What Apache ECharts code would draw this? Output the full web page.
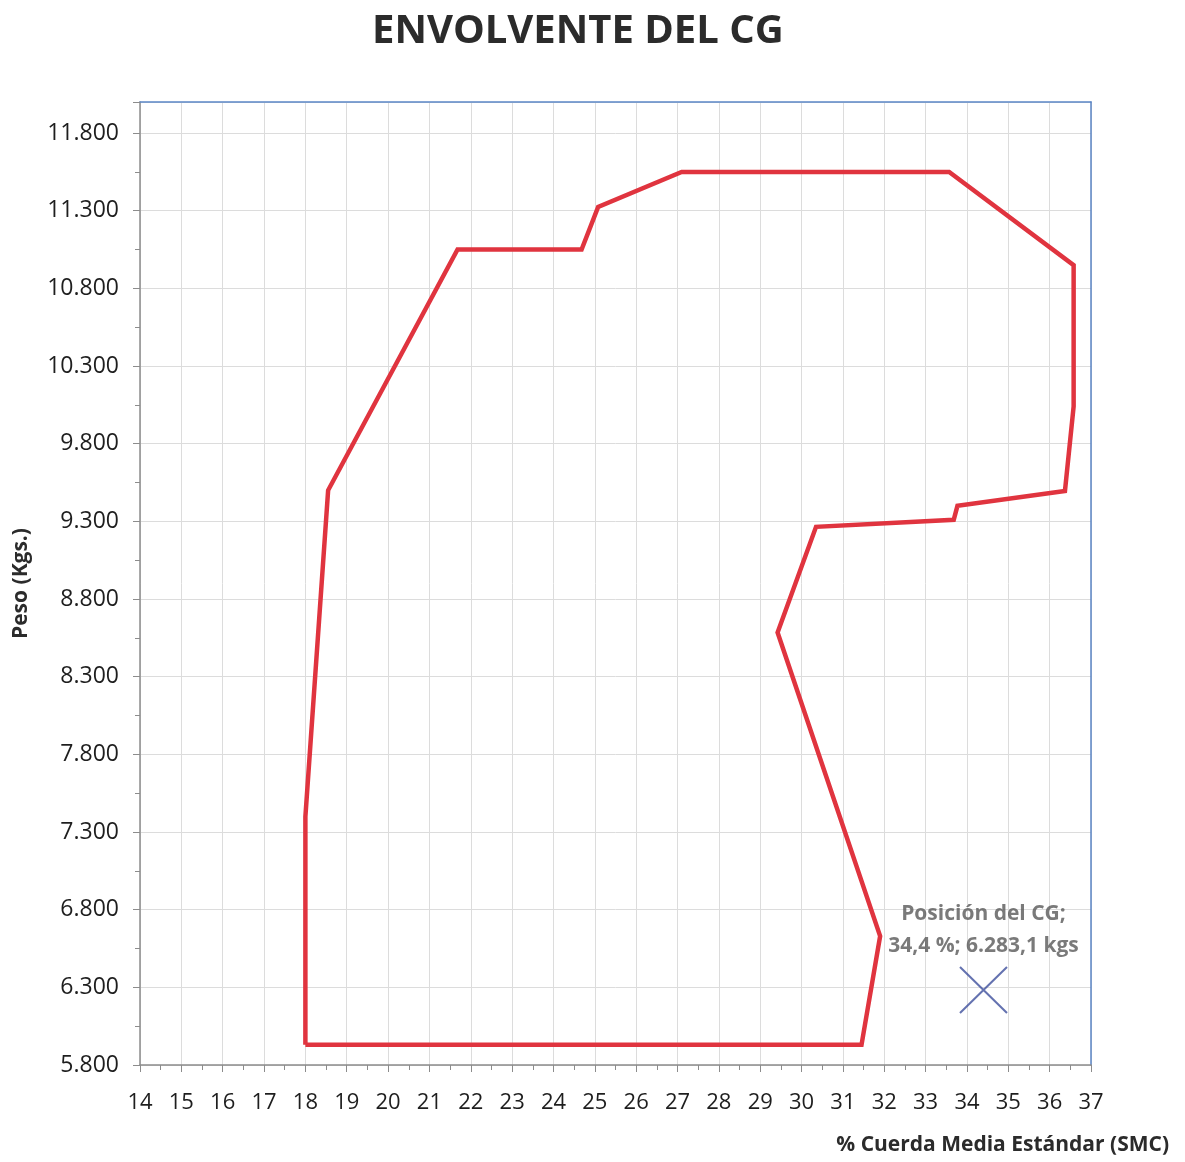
<!DOCTYPE html>
<html>
<head>
<meta charset="utf-8">
<script src="https://cdn.jsdelivr.net/npm/echarts@6/dist/echarts.min.js"></script>
<style>html,body{margin:0;padding:0;background:#fff}#c{width:1185px;height:1162px}</style>
</head>
<body>
<div id="c"></div>
<script>
var titleText = 'ENVOLVENTE DEL CG';
var xName = '% Cuerda Media Estándar (SMC)';
var yName = 'Peso (Kgs.)';
// Envelope (closed polygon): % SMC and weight (kg)
var envX = [18.0, 31.45, 31.9, 29.42, 30.35, 33.68, 33.77, 36.37, 36.58, 36.58, 33.57, 27.1, 25.08, 24.68, 21.68, 18.55, 18.0, 18.0];
var envY = [5930, 5930, 6630, 8585, 9265, 9310, 9400, 9495, 10040, 10950, 11550, 11550, 11325, 11050, 11050, 9500, 7400, 5930];
// CG position
var cgX = [34.4];
var cgY = [6283.1];
var cgLabel = ['Posición del CG;\n34,4 %; 6.283,1 kgs'];
// axes
var xMin = 14, xMax = 37, xStep = 1;
var yMin = 5800, yMax = 12000, yStep = 500;

function fmtThousands(v){
  var s = String(Math.round(v));
  return s.replace(/\B(?=(\d{3})+(?!\d))/g, '.');
}

var envData = envX.map(function(x,i){return [x, envY[i]];});
var cgData = cgX.map(function(x,i){return {value:[x, cgY[i]], label:cgLabel[i]};});

var FONT = '"Open Sans", sans-serif';
var BLUE = '#5b86c6';
var chart = echarts.init(document.getElementById('c'), null, {renderer:'canvas'});
chart.setOption({
  backgroundColor:'#fff',
  animation:false,
  grid:{left:140, right:94, top:102, bottom:97, outerBoundsMode:'none', containLabel:false, show:false},
  graphic:[
    {type:'text', left:372, top:12, style:{text:titleText, font:'bold 40px '+FONT, fill:'#2b2b2b'}},
    {type:'text', right:16, top:1135, style:{text:xName, font:'bold 21px '+FONT, fill:'#2b2b2b'}}
  ],
  xAxis:[{
    type:'value', min:xMin, max:xMax, interval:xStep,
    axisLine:{show:true, onZero:false, lineStyle:{color:'#8c8c8c', width:1.5}},
    axisTick:{show:true, inside:false, length:7, lineStyle:{color:'#8c8c8c'}},
    minorTick:{show:true, splitNumber:2, length:5, lineStyle:{color:'#8c8c8c'}},
    axisLabel:{margin:27, color:'#1e1e1e', fontSize:22, fontFamily:FONT},
    splitLine:{show:true, lineStyle:{color:'#dcdcdc', width:1}}
  },{
    type:'value', position:'top', min:xMin, max:xMax, interval:xStep,
    axisLine:{show:true, onZero:false, lineStyle:{color:BLUE, width:1.5}},
    axisTick:{show:false}, axisLabel:{show:false}, splitLine:{show:false}
  }],
  yAxis:[{
    type:'value', min:yMin, max:yMax, interval:yStep,
    name:yName, nameLocation:'middle', nameGap:108, nameRotate:90,
    nameTextStyle:{fontSize:21, fontWeight:'bold', color:'#2b2b2b', fontFamily:FONT},
    axisLine:{show:true, onZero:false, lineStyle:{color:'#8c8c8c', width:1.5}},
    axisTick:{show:true, inside:false, length:7, lineStyle:{color:'#8c8c8c'}},
    minorTick:{show:true, splitNumber:2, length:5, lineStyle:{color:'#8c8c8c'}},
    axisLabel:{margin:21, color:'#1e1e1e', fontSize:23, fontFamily:FONT, showMaxLabel:false,
      formatter:function(v){ return v >= yMax ? '' : fmtThousands(v); }},
    splitLine:{show:true, lineStyle:{color:'#dcdcdc', width:1}}
  },{
    type:'value', position:'right', min:yMin, max:yMax, interval:yStep,
    axisLine:{show:true, onZero:false, lineStyle:{color:BLUE, width:1.5}},
    axisTick:{show:false}, axisLabel:{show:false}, splitLine:{show:false}
  }],
  series:[
    {type:'line', data:envData, showSymbol:false, symbol:'none',
     lineStyle:{color:'#e0343f', width:4.5, join:'miter'}, z:3},
    {type:'scatter', data:cgData,
     symbol:'path://M0 0 L10 10 M10 0 L0 10', symbolSize:[47,46],
     itemStyle:{color:'none', borderColor:'#3d4f9c', borderWidth:2},
     label:{show:true, position:'top', distance:2, formatter:function(p){return p.data.label;},
       fontSize:21, fontWeight:'bold', color:'#595959', lineHeight:32, fontFamily:FONT, align:'center'},
     z:4}
  ]
});
</script>
</body>
</html>
